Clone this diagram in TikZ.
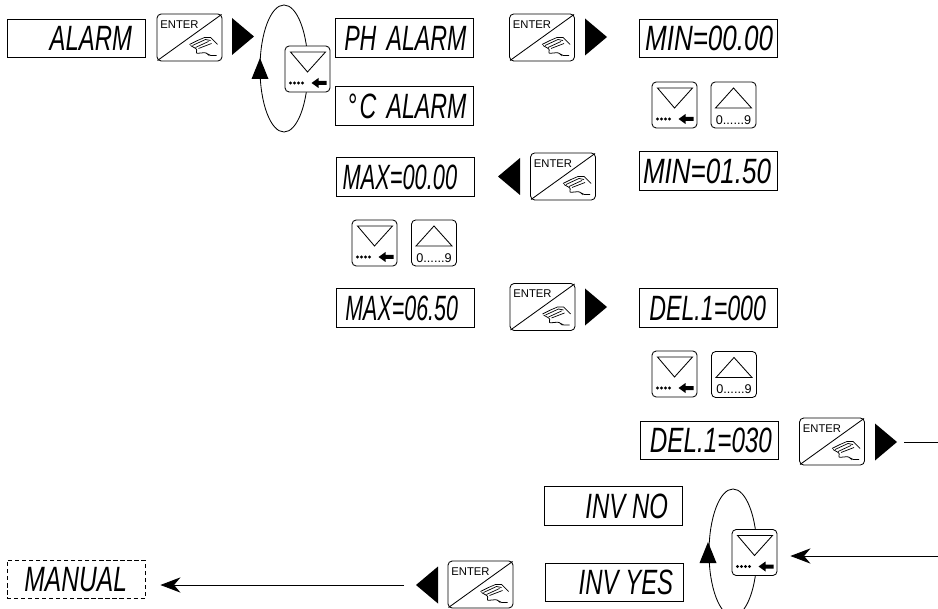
\documentclass[tikz,border=0pt]{standalone}
\usepackage{fontspec}
\setmainfont{Liberation Sans}
\usetikzlibrary{arrows.meta,shapes.geometric}
\newcommand{\lcdtext}[2][0.7]{\scalebox{#1}[1]{\fontsize{25}{25}\selectfont\itshape #2}}
\tikzset{
  px/.style={x=0.025cm,y=-0.025cm},
  lcd/.style={draw, semithick, fill=white, inner xsep=1pt, inner ysep=0pt,
    text width={3.45cm-2pt}, align=right, minimum height=0.96cm,
    execute at end node={\hspace*{#1}}},
  manual lcd/.style={lcd=#1, densely dashed},
  key box/.style={draw, semithick, fill=white, rounded corners=3pt, inner sep=0pt},
  long arrow/.style={-{Stealth[length=5mm,width=3.8mm,inset=1.6mm]}, semithick},
  loop ring/.style={ellipse, draw, semithick, inner sep=0pt,
    minimum width=1.2cm, minimum height=3.175cm},
  enterkey/.pic={
    \node[key box, minimum width=1.625cm, minimum height=1.175cm] (-box) at (0,0) {};
    \draw[semithick] (-32,23) -- (32,-23);
    \node[font=\fontsize{8}{8}\selectfont, inner sep=0pt] (-txt) at (-10,-13) {ENTER};
    \draw[line width=0.5pt] (0,7) -- (8,3) -- (15,0) -- (21,0) -- (28,7)
      (3,8) -- (16,2) -- (21,3) (6,10) -- (19,4) (9,11) -- (22,6);
    \draw[line width=0.55pt, rounded corners=1.5pt] (1,8) -- (8,12) -- (6,16) -- (17,15) -- (19,18) -- (27,18);
  },
  downkey/.pic={
    \node[key box, minimum width=1.125cm, minimum height=1.15cm] (-box) at (0,0) {};
    \draw[semithick] (-17,-17) -- (18,-17) -- (0,3) -- cycle;
    \foreach \dotx in {-17,-13,-9,-5} \fill (\dotx,14) circle (1.7);
    \fill (4,14) -- (11,9) -- (11,12) -- (19,12) -- (19,16) -- (11,16) -- (11,19) -- cycle;
  },
  upkey/.pic={
    \node[key box, minimum width=1.125cm, minimum height=1.15cm] (-box) at (0,0) {};
    \draw[semithick] (-18,3) -- (18,3) -- (0,-17) -- cycle;
    \node[font=\fontsize{9}{9}\selectfont, inner sep=0pt] (-txt) at (0,15) {0......9};
  },
  bigtri/.pic={
    \fill (-11,-18.5) -- (11,0) -- (-11,18.5) -- cycle;
    \coordinate (-tip) at (11,0);
  },
  looptri/.pic={
    \fill (0,-11) -- (8.5,10) -- (-8.5,10) -- cycle;
  }
}
\begin{document}
\begin{tikzpicture}[px]
  \path[use as bounding box, fill=white] (0,0) rectangle (938,609);

  \node[loop ring] (ringa) at (284,68.5) {};
  \pic at (260,69) {looptri};
  \node[loop ring] (ringb) at (733,552.5) {};
  \pic at (708,553) {looptri};

  \node[lcd=8.2pt] (alarm) at (76,38.5) {\lcdtext[0.68]{ALARM}};
  \pic (ea) at (189.5,37.5) {enterkey};
  \pic (ta) at (243,36.5) {bigtri};
  \pic (da) at (307.5,69) {downkey};

  \node[lcd=4pt] (phalarm) at (404.5,38) {\lcdtext[0.66]{PH \hspace{0.3em}ALARM}};
  \node[lcd=4pt] (calarm) at (404.5,106) {\lcdtext[0.66]{° C \hspace{0.3em}ALARM}};
  \pic (eb) at (542,37.5) {enterkey};
  \pic (tb) at (596,37) {bigtri};
  \node[lcd=1.8pt] (mina) at (708,38.5) {\lcdtext[0.74]{MIN=00.00}};
  \pic (db) at (674.5,105) {downkey};
  \pic (ub) at (733.5,105) {upkey};
  \node[lcd=3.3pt] (minb) at (708,171) {\lcdtext[0.74]{MIN=01.50}};

  \node[lcd=11pt] (maxa) at (405,177) {\lcdtext[0.62]{MAX=00.00}};
  \pic[rotate=180] (tc) at (509,176.5) {bigtri};
  \pic (ec) at (563,176.5) {enterkey};
  \pic (dc) at (374.5,243) {downkey};
  \pic (uc) at (434,243) {upkey};
  \node[lcd=10.4pt] (maxb) at (405,308) {\lcdtext[0.61]{MAX=06.50}};
  \pic (ed) at (542.5,307) {enterkey};
  \pic (td) at (596,307) {bigtri};
  \node[lcd=6.8pt] (dela) at (708,308) {\lcdtext[0.66]{DEL.1=000}};
  \pic (de) at (674.5,374) {downkey};
  \pic (ue) at (734,374.5) {upkey};
  \node[lcd=3.3pt] (delb) at (709,440.5) {\lcdtext[0.69]{DEL.1=030}};
  \pic (ef) at (832,441.5) {enterkey};
  \pic (tf) at (886,442) {bigtri};
  \coordinate (outa) at (938,442);
  \draw[semithick, shorten <=0.175cm] (tf-tip) -- (outa);

  \node[lcd=9pt] (invno) at (613,506) {\lcdtext[0.68]{INV \hspace{0.15em}NO}};
  \node[lcd=6pt] (invyes) at (614,582.5) {\lcdtext[0.68]{INV \hspace{0.15em}YES}};
  \pic (dg) at (754.5,552.5) {downkey};
  \coordinate (ina) at (938,556);
  \draw[long arrow, shorten >=0.325cm] (ina) -- (dg-box.east |- ina);

  \pic[rotate=180] (tg) at (427,585) {bigtri};
  \pic (eg) at (480.5,584.5) {enterkey};
  \node[manual lcd=11.8pt] (manual) at (76,579.5) {\lcdtext{MANUAL}};
  \draw[long arrow, shorten <=0.3cm, shorten >=0.375cm] (tg-tip) -- (manual.east |- tg-tip);
\end{tikzpicture}
\end{document}
